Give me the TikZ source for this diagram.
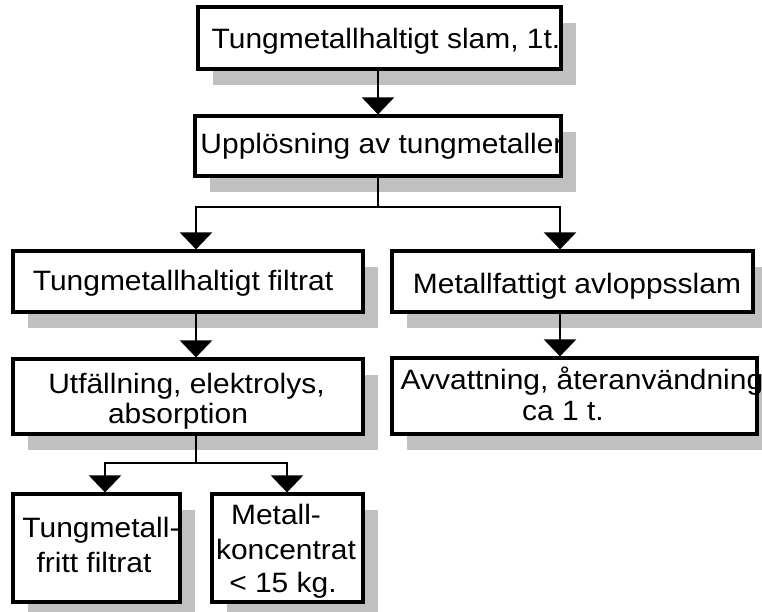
\documentclass[tikz,border=0pt]{standalone}
\usepackage{fontspec}
\setmainfont{Liberation Sans}[FakeStretch=1.07]
\usetikzlibrary{arrows.meta,shadows}
\definecolor{shadowgray}{RGB}{192,192,192}
\begin{document}
\begin{tikzpicture}[x=1pt,y=-1pt,
  box/.style={draw, line width=3.2pt, fill=white, inner sep=0pt,
    general shadow={fill=shadowgray, shadow xshift=15pt, shadow yshift=-16pt}},
  txt/.style={anchor=base, inner sep=0pt, font=\fontsize{28}{31}\selectfont},
  conn/.style={line width=2.4pt},
  arr/.style={conn, -{Triangle[width=32pt,length=17pt]}}]
\useasboundingbox (0,0) rectangle (762,611);
% boxes
\node[box, minimum width=363pt, minimum height=62pt] (b1) at (379.5,38) {};
\node[box, minimum width=366pt, minimum height=60pt] (b2) at (378,146) {};
\node[box, minimum width=350pt, minimum height=61pt] (b3) at (188,281.5) {};
\node[box, minimum width=350pt, minimum height=75pt] (b4) at (188,396.5) {};
\node[box, minimum width=361pt, minimum height=61pt] (b5) at (572.5,281.5) {};
\node[box, minimum width=365pt, minimum height=76pt] (b6) at (574.5,396) {};
\node[box, minimum width=167pt, minimum height=108pt] (b7) at (96.5,548) {};
\node[box, minimum width=151pt, minimum height=108pt] (b8) at (287.5,548) {};
% texts
\node[txt] (t1) at (386,48) {Tungmetallhaltigt slam, 1t.};
\node[txt] (t2) at (382,153) {Upplösning av tungmetaller};
\node[txt] (t3) at (183,290) {Tungmetallhaltigt filtrat};
\node[txt] (t4a) at (186.5,393) {Utfällning, elektrolys,};
\node[txt] (t4b) at (178,423) {absorption};
\node[txt] (t5) at (577,293) {Metallfattigt avloppsslam};
\node[txt] (t6a) at (582,389) {Avvattning, återanvändning};
\node[txt] (t6b) at (563,420) {ca 1 t.};
\node[txt] (t7a) at (101,537) {Tungmetall-};
\node[txt] (t7b) at (94,572) {fritt filtrat};
\node[txt] (t8a) at (276,524) {Metall-};
\node[txt] (t8b) at (286,559) {koncentrat};
\node[txt] (t8c) at (283,592) {< 15 kg.};
% junctions
\coordinate (j1) at (378,207);
\coordinate (l1) at (196,207);
\coordinate (r1) at (560,207);
\coordinate (j2) at (196,463);
\coordinate (l2) at (105,463);
\coordinate (r2) at (287,463);
% connectors
\draw[arr] (b1.south -| b2.north) -- (b2.north);
\draw[conn] (b2.south) -- (j1);
\draw[arr] (j1) -- (l1) -- (l1 |- b3.north);
\draw[arr] (j1) -- (r1) -- (r1 |- b5.north);
\draw[arr] (l1 |- b3.south) -- (l1 |- b4.north);
\draw[arr] (r1 |- b5.south) -- (r1 |- b6.north);
\draw[conn] (j2 |- b4.south) -- (j2);
\draw[arr] (j2) -- (l2) -- (l2 |- b7.north);
\draw[arr] (j2) -- (r2) -- (r2 |- b8.north);
\end{tikzpicture}
\end{document}
